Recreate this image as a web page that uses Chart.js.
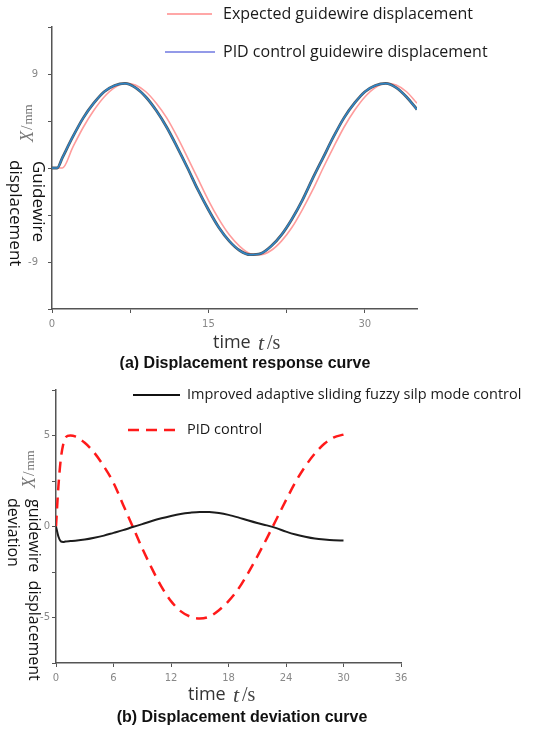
<!DOCTYPE html>
<html>
<head>
<meta charset="utf-8">
<script src="https://cdn.jsdelivr.net/npm/chart.js@4.4.1/dist/chart.umd.min.js"></script>
<style>
  html, body { margin: 0; padding: 0; background: #fff; }
  #wrapA { position: absolute; left: 0; top: 0; width: 556px; height: 370px; }
  #wrapB { position: absolute; left: 0; top: 370px; width: 556px; height: 363px; }
</style>
</head>
<body>
<div id="wrapA"><canvas id="chartA"></canvas></div>
<div id="wrapB"><canvas id="chartB"></canvas></div>
<script>
// (a) displacement response (mm)
var timeA = [0, 0.5, 1, 2, 3, 4, 5, 6, 7, 8, 9, 10, 11, 12, 13, 14, 15, 16, 17, 18,
  19, 20, 21, 22, 23, 24, 25, 26, 27, 28, 29, 30, 31, 32, 33, 34, 35];
var expectedDisp = [0, 0, 0, 2.0, 3.9, 5.5, 6.8, 7.7, 8.1, 7.95, 7.3, 6.2, 4.8, 3.0, 1.0,
  -1.05, -3.1, -4.9, -6.4, -7.5, -8.2, -8.3, -7.9, -7.0, -5.7, -4.0, -2.1, 0, 2.0, 3.9,
  5.5, 6.8, 7.7, 8.1, 7.95, 7.3, 6.2];
var pidDisp = [0, 0, 1.0, 3.0, 4.8, 6.2, 7.3, 7.9, 8.1, 7.7, 6.8, 5.5, 3.9, 2.0, 0,
  -2.1, -4.0, -5.7, -7.0, -7.9, -8.3, -8.2, -7.5, -6.4, -4.9, -3.1, -1.0, 1.0, 3.0, 4.8,
  6.2, 7.3, 7.9, 8.1, 7.7, 6.8, 5.6];
var xTicksA = [0, 7.5, 15, 22.5, 30];
var xLabelsA = [0, 15, 30];
var yTicksA = [-13.5, -9, -4.5, 0, 4.5, 9, 13.5];
var yLabelsA = [-9, 9];

// (b) displacement deviation
var timeB = [0, 0.25, 0.5, 0.75, 1, 1.5, 2, 3, 4, 5, 6, 7, 8, 9, 10, 11, 12, 13, 14, 15,
  16, 17, 18, 19, 20, 21, 22, 23, 24, 25, 26, 27, 28, 29, 30];
var fuzzyDev = [0, -0.55, -0.82, -0.85, -0.82, -0.8, -0.78, -0.72, -0.62, -0.5, -0.35,
  -0.2, -0.03, 0.13, 0.3, 0.45, 0.58, 0.69, 0.76, 0.8, 0.79, 0.74, 0.64, 0.5, 0.34,
  0.19, 0.06, -0.09, -0.28, -0.44, -0.56, -0.66, -0.72, -0.76, -0.77];
var pidDev = [0, 2.2, 3.7, 4.5, 4.9, 5.0, 4.95, 4.6, 4.05, 3.3, 2.4, 1.2, 0.0, -1.2,
  -2.3, -3.3, -4.1, -4.65, -4.95, -5.05, -4.95, -4.6, -4.1, -3.45, -2.6, -1.65, -0.65,
  0.4, 1.45, 2.45, 3.3, 4.0, 4.55, 4.9, 5.05];
var xTicksB = [0, 6, 12, 18, 24, 30, 36];
var yTicksB = [-7.5, -5, -2.5, 0, 2.5, 5, 7.5];
var yLabelsB = [-5, 0, 5];

function pts(xs, ys) {
  return xs.map(function (x, i) { return { x: x, y: ys[i] }; });
}

var axisColor = "#555";
var tickFont = { family: "DejaVu Sans", size: 10 };
var sansFont = "'Open Sans', 'Noto Sans', sans-serif";

function rotText(ctx, str, x, y, angle, font, color) {
  ctx.save();
  ctx.translate(x, y);
  ctx.rotate(angle);
  ctx.font = font;
  ctx.fillStyle = color;
  ctx.textAlign = "left";
  ctx.textBaseline = "middle";
  ctx.fillText(str, 0, 0);
  ctx.restore();
}

// "X/mm" label, reading upwards
function unitLabel(ctx, x, y) {
  ctx.save();
  ctx.translate(x, y);
  ctx.rotate(-Math.PI / 2);
  ctx.textBaseline = "middle";
  ctx.textAlign = "left";
  ctx.fillStyle = "#777";
  ctx.font = "italic 18px 'Liberation Serif'";
  ctx.fillText("X", 0, 0);
  var w = ctx.measureText("X").width;
  ctx.font = "16px 'Liberation Serif'";
  ctx.fillText("/", w + 1, 0);
  var w2 = ctx.measureText("/").width;
  ctx.font = "13px 'Liberation Serif'";
  ctx.fillText("mm", w + w2 + 2, 1);
  ctx.restore();
}

function timeLabel(ctx, x, y) {
  ctx.save();
  ctx.textBaseline = "middle";
  ctx.textAlign = "left";
  ctx.fillStyle = "#333";
  ctx.font = "18px " + sansFont;
  ctx.fillText("time", x, y);
  ctx.fillStyle = "#444";
  ctx.font = "italic 22px 'Liberation Serif'";
  ctx.fillText("t", x + 45, y + 1);
  ctx.font = "20px 'Liberation Serif'";
  ctx.fillText("/s", x + 54, y + 1);
  ctx.restore();
}

function legendRow(ctx, x1, x2, y, color, width, dash, label, tx, size) {
  ctx.save();
  ctx.strokeStyle = color;
  ctx.lineWidth = width;
  ctx.setLineDash(dash);
  ctx.beginPath();
  ctx.moveTo(x1, y);
  ctx.lineTo(x2, y);
  ctx.stroke();
  ctx.setLineDash([]);
  ctx.fillStyle = "#1a1a1a";
  ctx.font = "500 " + size + "px " + sansFont;
  ctx.textBaseline = "middle";
  ctx.textAlign = "left";
  ctx.fillText(label, tx, y);
  ctx.restore();
}

function caption(ctx, str, cx, y) {
  ctx.save();
  ctx.fillStyle = "#111";
  ctx.font = "bold 16px 'Liberation Sans', Arial, sans-serif";
  ctx.textAlign = "center";
  ctx.textBaseline = "middle";
  ctx.fillText(str, cx, y);
  ctx.restore();
}

var decorA = {
  id: "decorA",
  afterDraw: function (chart) {
    var ctx = chart.ctx;
    legendRow(ctx, 167, 212, 14, "#ff8a8a", 1.5, [], "Expected guidewire displacement", 223, 16);
    legendRow(ctx, 165, 215, 52, "#6f78e0", 1.5, [], "PID control guidewire displacement", 223, 16);
    unitLabel(ctx, 28, 142);
    rotText(ctx, "Guidewire", 38, 161, Math.PI / 2, "17px " + sansFont, "#111");
    rotText(ctx, "displacement", 15, 160, Math.PI / 2, "17px " + sansFont, "#111");
    timeLabel(ctx, 213, 343);
    caption(ctx, "(a) Displacement response curve", 245, 364);
  }
};

var decorB = {
  id: "decorB",
  afterDraw: function (chart) {
    var ctx = chart.ctx;
    legendRow(ctx, 133, 180, 25, "#111", 2, [], "Improved adaptive sliding fuzzy silp mode control", 187, 14.5);
    legendRow(ctx, 128, 177, 60, "#ff1a1a", 2.5, [11, 7], "PID control", 187, 14.5);
    unitLabel(ctx, 30, 118);
    rotText(ctx, "guidewire  displacement", 34, 129, Math.PI / 2, "16px " + sansFont, "#111");
    rotText(ctx, "deviation", 13, 128, Math.PI / 2, "16px " + sansFont, "#111");
    timeLabel(ctx, 188, 325);
    caption(ctx, "(b) Displacement deviation curve", 242, 348);
  }
};

function axisX(min, max, tickVals, labelVals, height) {
  return {
    type: "linear",
    min: min,
    max: max,
    afterBuildTicks: function (scale) {
      scale.ticks = tickVals.map(function (v) { return { value: v }; });
    },
    afterFit: function (scale) { scale.height = height; },
    ticks: {
      autoSkip: false,
      maxRotation: 0,
      padding: 5,
      color: "#888",
      font: tickFont,
      callback: function (v) { return labelVals.indexOf(v) >= 0 ? String(v) : ""; }
    },
    grid: { drawOnChartArea: false, drawTicks: true, tickLength: 4, color: axisColor },
    border: { color: axisColor, width: 1.5 }
  };
}

function axisY(min, max, tickVals, labelVals, width, pad) {
  return {
    type: "linear",
    min: min,
    max: max,
    afterBuildTicks: function (scale) {
      scale.ticks = tickVals.map(function (v) { return { value: v }; });
    },
    afterFit: function (scale) { scale.width = width; },
    ticks: {
      autoSkip: false,
      padding: pad,
      color: "#888",
      font: tickFont,
      callback: function (v) { return labelVals.indexOf(v) >= 0 ? String(v) : ""; }
    },
    grid: { drawOnChartArea: false, drawTicks: true, tickLength: 4, color: axisColor },
    border: { color: axisColor, width: 1.5 }
  };
}

new Chart(document.getElementById("chartA"), {
  type: "line",
  data: {
    datasets: [
      {
        label: "Expected guidewire displacement",
        data: pts(timeA, expectedDisp),
        borderColor: "#ff9c9c",
        borderWidth: 1.6,
        order: 3
      },
      {
        label: "PID control guidewire displacement (shadow)",
        data: pts(timeA, pidDisp),
        borderColor: "#50575e",
        borderWidth: 2.8,
        order: 2
      },
      {
        label: "PID control guidewire displacement",
        data: pts(timeA, pidDisp),
        borderColor: "#2f86c8",
        borderWidth: 1.5,
        order: 1
      }
    ]
  },
  options: {
    responsive: true,
    maintainAspectRatio: false,
    animation: false,
    elements: {
      point: { radius: 0 },
      line: { cubicInterpolationMode: "monotone" }
    },
    layout: { padding: { top: 27, right: 139, bottom: 0, left: 0 } },
    plugins: { legend: { display: false }, tooltip: { enabled: false } },
    scales: {
      x: axisX(0, 35, xTicksA, xLabelsA, 61),
      y: axisY(-13.5, 13.5, yTicksA, yLabelsA, 52, 10)
    }
  },
  plugins: [decorA]
});

new Chart(document.getElementById("chartB"), {
  type: "line",
  data: {
    datasets: [
      {
        label: "Improved adaptive sliding fuzzy silp mode control",
        data: pts(timeB, fuzzyDev),
        borderColor: "#1c1c1c",
        borderWidth: 2
      },
      {
        label: "PID control",
        data: pts(timeB, pidDev),
        borderColor: "#ff1a1a",
        borderWidth: 2.5,
        borderDash: [11, 7]
      }
    ]
  },
  options: {
    responsive: true,
    maintainAspectRatio: false,
    animation: false,
    elements: {
      point: { radius: 0 },
      line: { cubicInterpolationMode: "monotone" }
    },
    layout: { padding: { top: 20, right: 155, bottom: 0, left: 0 } },
    plugins: { legend: { display: false }, tooltip: { enabled: false } },
    scales: {
      x: axisX(0, 36, xTicksB, xTicksB, 70),
      y: axisY(-7.5, 7.5, yTicksB, yLabelsB, 56, 2)
    }
  },
  plugins: [decorB]
});
</script>
</body>
</html>
